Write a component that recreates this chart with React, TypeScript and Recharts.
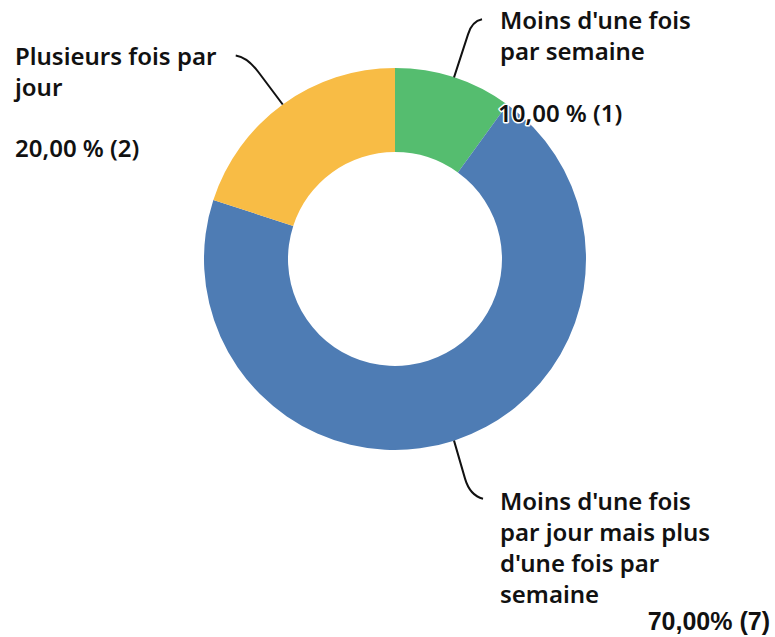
import { PieChart, Pie, Cell } from "recharts"

const categories = [
  "Moins d'une fois par semaine",
  "Moins d'une fois par jour mais plus d'une fois par semaine",
  "Plusieurs fois par jour",
]
const categoryLines = [
  ["Moins d'une fois", "par semaine"],
  ["Moins d'une fois", "par jour mais plus", "d'une fois par", "semaine"],
  ["Plusieurs fois par", "jour"],
]
const counts = [1, 7, 2]
const percentLabels = ["10,00 % (1)", "70,00% (7)", "20,00 % (2)"]
const colors = ["#55bd6f", "#4e7cb4", "#f8bc45"]

const data = categories.map((name, i) => ({ name, value: counts[i] }))

const FONT = "'Noto Sans', sans-serif"
const FS = 24
const LINE_H = 31
const RAD = Math.PI / 180

if (typeof document !== "undefined") document.body.style.margin = "0"

function renderLabel(props: any) {
  const { cx, cy, midAngle, outerRadius, index } = props
  const sx = cx + outerRadius * Math.cos(-midAngle * RAD)
  const sy = cy + outerRadius * Math.sin(-midAngle * RAD)
  const lines = categoryLines[index]
  let path = ""
  let tx = 0
  let ty = 0
  let value: any = null
  if (index === 0) {
    path = `M${sx},${sy} L${sx + 14},${sy - 43} Q${sx + 18},${sy - 56} ${sx + 28},${sy - 58}`
    tx = cx + 105
    ty = cy - 230
    value = (
      <text x={cx + 103} y={cy - 137} fontSize={FS} fontWeight={600} fontFamily={FONT} fill="#111"
        stroke="#fff" strokeWidth={3} strokeLinejoin="round" style={{ paintOrder: "stroke" }}>
        {percentLabels[index]}
      </text>
    )
  } else if (index === 2) {
    path = `M${sx},${sy} L${sx - 24},${sy - 32} Q${sx - 35},${sy - 47} ${sx - 47},${sy - 49}`
    tx = cx - 380
    ty = cy - 194
    value = (
      <text x={tx} y={cy - 102} fontSize={FS} fontWeight={600} fontFamily={FONT} fill="#111">
        {percentLabels[index]}
      </text>
    )
  } else {
    path = `M${sx},${sy} L${sx + 11},${sy + 38} Q${sx + 16},${sy + 55} ${sx + 29},${sy + 58}`
    tx = cx + 105
    ty = cy + 251
    value = (
      <text x={cx + 375} y={cy + 371} textAnchor="end" fontSize={25} fontWeight={700}
        fontFamily="'Liberation Sans', Arial, sans-serif" fill="#111">
        {percentLabels[index]}
      </text>
    )
  }
  return (
    <g>
      <path d={path} fill="none" stroke="#111" strokeWidth={2} />
      <text x={tx} y={ty} fontSize={FS} fontWeight={600} fontFamily={FONT} fill="#111">
        {lines.map((l, i) => (
          <tspan key={i} x={tx} dy={i === 0 ? 0 : LINE_H}>
            {l}
          </tspan>
        ))}
      </text>
      {value}
    </g>
  )
}

export default function App() {
  return (
    <div style={{ width: 775, height: 637, background: "#fff" }}>
      <PieChart width={775} height={637} margin={{ top: 0, right: 0, bottom: 0, left: 0 }}>
        <Pie
          data={data}
          dataKey="value"
          nameKey="name"
          cx={395}
          cy={259}
          innerRadius={107}
          outerRadius={191}
          startAngle={90}
          endAngle={-270}
          stroke="none"
          label={renderLabel}
          labelLine={false}
          isAnimationActive={false}
        >
          {data.map((d, i) => (
            <Cell key={d.name} fill={colors[i]} />
          ))}
        </Pie>
      </PieChart>
    </div>
  )
}
